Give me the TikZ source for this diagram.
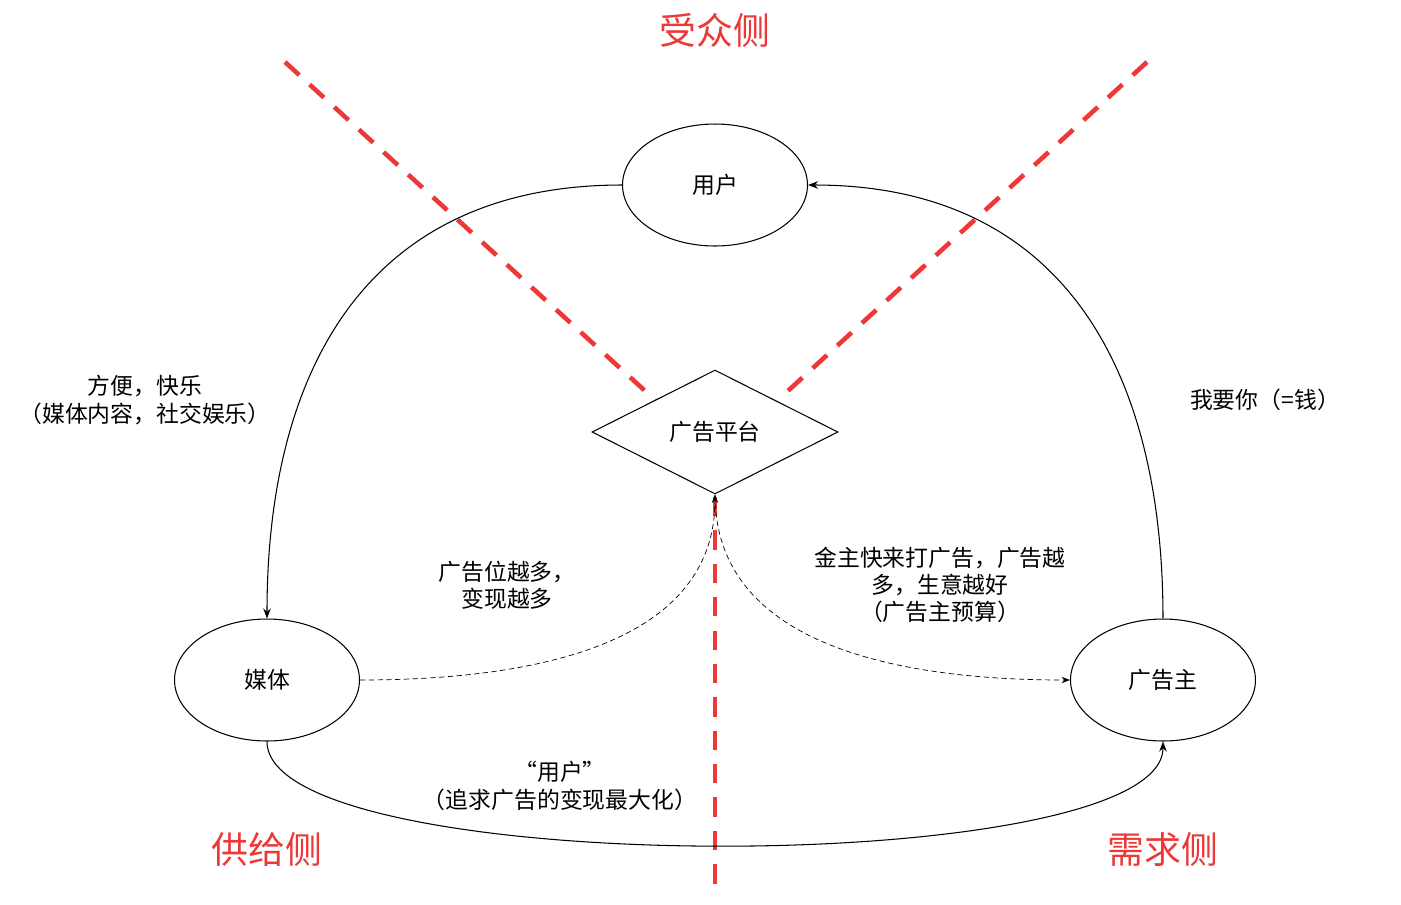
\documentclass[tikz,border=0pt]{standalone}
\usepackage{fontspec}
\setmainfont{Noto Sans CJK SC}
\usetikzlibrary{arrows.meta,shapes.geometric}
\definecolor{sideRed}{rgb}{0.93,0.22,0.22}
\tikzset{
  party/.style={ellipse, draw, minimum width=3.7cm, minimum height=2.44cm, font=\fontsize{13}{15}\selectfont},
  sideline/.style={sideRed, line width=2.6pt, dash pattern=on 11pt off 8pt},
  sidetitle/.style={text=sideRed, font=\fontsize{21}{25}\selectfont},
  note/.style={align=center, font=\fontsize{13}{15.5}\selectfont}
}
\begin{document}
\begin{tikzpicture}[x=0.02cm, y=-0.02cm, >=Stealth, semithick]
  \useasboundingbox (0,0) rectangle (1401,904);

  % red dividing lines
  \draw[sideline] (285,62) -- (655,400);
  \draw[sideline] (1147,62) -- (778,400);
  \draw[sideline] (715,497) -- (715,885);

  \node[sidetitle] (audience) at (715,30) {受众侧};
  \node[sidetitle] (supply) at (267,850) {供给侧};
  \node[sidetitle] (demand) at (1163,850) {需求侧};

  \node[party] (user) at (715,185) {用户};
  \node[party] (media) at (267,680) {媒体};
  \node[party] (adv) at (1163,680) {广告主};
  \node[diamond, draw, fill=white, aspect=2, minimum width=4.92cm, minimum height=2.48cm, inner sep=0pt,
        font=\fontsize{13}{15}\selectfont] (platform) at (715,432) {广告平台};

  \draw[->] (user.west) to[out=180, in=90, looseness=1.15] (media.north);
  \draw[->] (adv.north) to[out=90, in=0, looseness=1.15] (user.east);
  \draw[->] (media.south) .. controls (267,880) and (1163,880) .. (adv.south);
  \draw[->, densely dashed, thin] (media.east) to[out=0, in=270] (platform.south);
  \draw[->, densely dashed, thin] (platform.south) to[out=270, in=180] (adv.west);

  \node[note] (happy) at (145,400) {方便，快乐\\（媒体内容，社交娱乐）};
  \node[note] (money) at (1265,400) {我要你（=钱）};
  \node[note] (slots) at (507,585) {广告位越多，\\变现越多};
  \node[note] (budget) at (940,585) {金主快来打广告，广告越\\多，生意越好\\（广告主预算）};
  \node[note] (maxim) at (560,786) {“用户”\\（追求广告的变现最大化）};
\end{tikzpicture}
\end{document}
